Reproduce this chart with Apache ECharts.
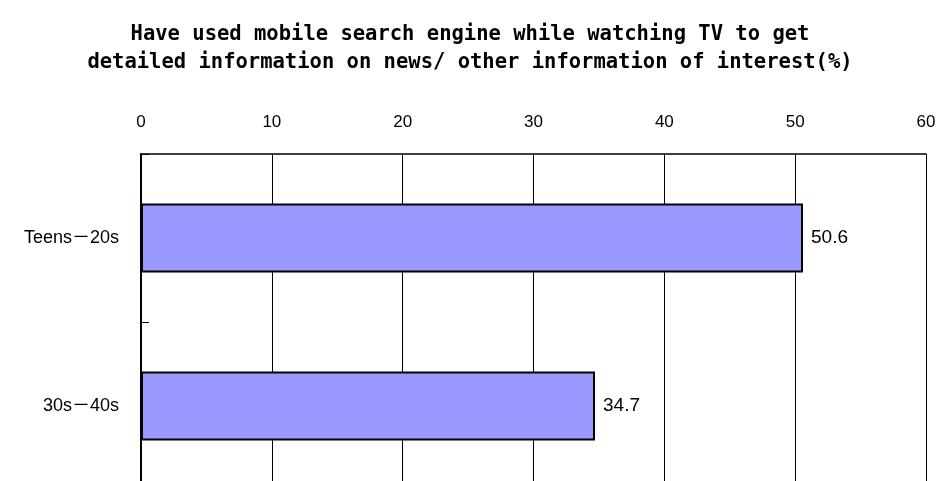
<!DOCTYPE html>
<html>
<head>
<meta charset="utf-8">
<script src="https://cdn.jsdelivr.net/npm/echarts@6/dist/echarts.min.js"></script>
<style>
    html, body { margin: 0; padding: 0; background: #fff; }
    #chart { width: 940px; height: 481px; }
</style>
</head>
<body>
<div id="chart"></div>
<script>
'use strict';

// chart data
var categories = ['Teens－20s', '30s－40s'];
var values = [50.6, 34.7];
var axisMin = 0;
var axisMax = 60;
var axisStep = 10;

var titleText = 'Have used mobile search engine while watching TV to get\n' +
    'detailed information on news/ other information of interest(%)';

var chart = echarts.init(document.getElementById('chart'));

chart.setOption({
    backgroundColor: '#fff',
    animation: false,
    title: {
        text: titleText,
        left: 'center',
        top: 16,
        textStyle: {
            fontFamily: 'DejaVu Sans Mono',
            fontWeight: 'bold',
            fontSize: 20.5,
            lineHeight: 28,
            color: '#000'
        }
    },
    grid: {
        left: 141,
        top: 154,
        width: 785,
        height: 336,
        outerBoundsMode: 'none',
        containLabel: false
    },
    xAxis: {
        type: 'value',
        position: 'top',
        min: axisMin,
        max: axisMax,
        interval: axisStep,
        axisLine: { show: true, lineStyle: { color: '#000', width: 1.5 } },
        axisTick: { show: false },
        axisLabel: {
            margin: 23,
            fontFamily: 'Liberation Sans, Arial, sans-serif',
            fontSize: 17,
            color: '#000'
        },
        splitLine: { show: true, lineStyle: { color: '#000', width: 1 } }
    },
    yAxis: {
        type: 'category',
        inverse: true,
        data: categories,
        axisLine: { show: true, lineStyle: { color: '#000', width: 2 } },
        axisTick: { show: true, inside: true, length: 8, lineStyle: { color: '#000' } },
        axisLabel: {
            margin: 22,
            fontFamily: 'Liberation Sans, Noto Sans CJK JP, sans-serif',
            fontSize: 18,
            color: '#000'
        },
        splitLine: { show: false }
    },
    series: [{
        type: 'bar',
        data: values,
        barWidth: 69,
        itemStyle: {
            color: '#9999ff',
            borderColor: '#000',
            borderWidth: 2
        },
        label: {
            show: true,
            position: 'right',
            distance: 8,
            fontFamily: 'Liberation Sans, Arial, sans-serif',
            fontSize: 19,
            color: '#000',
            formatter: function (p) {
                return p.value.toFixed(1);
            }
        }
    }]
});
</script>
</body>
</html>
